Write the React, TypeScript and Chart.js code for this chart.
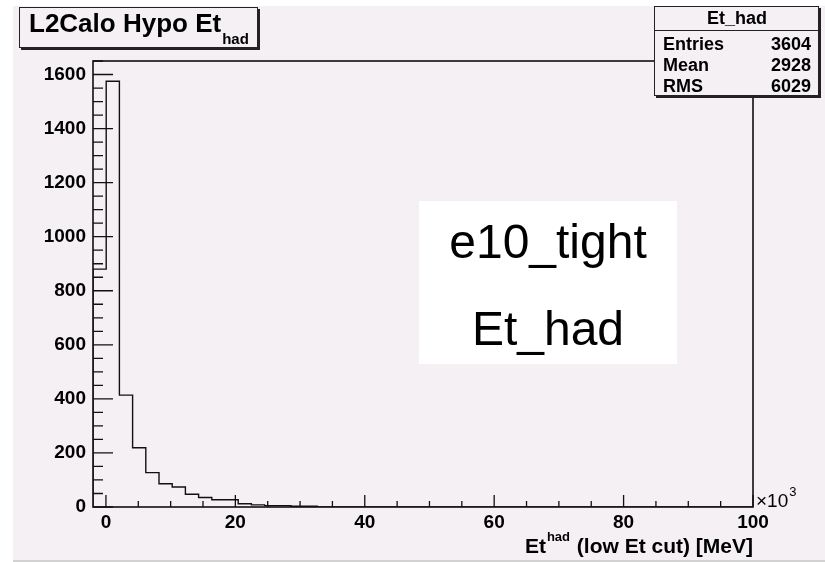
import React, { useEffect, useRef } from "react";
import { Chart, registerables } from "chart.js";

Chart.register(...registerables);

// ---- data ----
const X_MIN = -2;
const X_MAX = 100;
const N_BINS = 50;
const BIN_COUNTS = [
  880, 1575, 414, 219, 127, 86, 74, 47, 35, 27,
  27, 12, 8, 5, 5, 3, 3, 0, 0, 0,
  0, 0, 0, 0, 0, 0, 0, 0, 0, 0,
  0, 0, 0, 0, 0, 0, 0, 0, 0, 0,
  0, 0, 0, 0, 0, 0, 0, 0, 0, 0,
];
const X_TICKS = [0, 20, 40, 60, 80, 100];
const Y_TICKS = [0, 200, 400, 600, 800, 1000, 1200, 1400, 1600];
const Y_MAX = 1650;
const X_MINOR_STEP = 5;
const Y_MINOR_STEP = 50;

const TITLE_MAIN = "L2Calo Hypo Et";
const TITLE_SUB = "had";
const STATS_NAME = "Et_had";
const STATS_ROWS = [
  ["Entries", "3604"],
  ["Mean", "2928"],
  ["RMS", "6029"],
];
const NOTE_LINES = ["e10_tight", "Et_had"];
const XTITLE_A = "Et";
const XTITLE_SUP = "had";
const XTITLE_B = " (low Et cut) [MeV]";

const W = 825;
const H = 562;
const BG = "#f4f0f4";
const FONT = '"Liberation Sans", Arial, Helvetica, sans-serif';

const binWidth = (X_MAX - X_MIN) / N_BINS;

function buildPoints() {
  const pts: { x: number; y: number }[] = [{ x: X_MIN, y: 0 }];
  BIN_COUNTS.forEach((c, i) => pts.push({ x: X_MIN + i * binWidth, y: c }));
  pts.push({ x: X_MAX, y: 0 });
  return pts;
}

const decoPlugin = {
  id: "rootDeco",
  beforeDraw(chart: any) {
    const ctx = chart.ctx as CanvasRenderingContext2D;
    ctx.save();
    ctx.fillStyle = "#ffffff";
    ctx.fillRect(0, 0, W, H);
    ctx.fillStyle = BG;
    ctx.fillRect(13, 6, W - 13, 554);
    ctx.fillStyle = "#d2d2d2";
    ctx.fillRect(13, 560, W - 13, 2);
    ctx.restore();
  },
  afterDatasetsDraw(chart: any) {
    const ctx = chart.ctx as CanvasRenderingContext2D;
    const xs = chart.scales.x;
    const ys = chart.scales.y;
    const a = chart.chartArea;
    ctx.save();
    // frame
    ctx.strokeStyle = "#111";
    ctx.lineWidth = 1.6;
    ctx.strokeRect(a.left, a.top, a.right - a.left, a.bottom - a.top);
    // x ticks
    ctx.lineWidth = 1.3;
    ctx.beginPath();
    for (let v = 0; v <= X_MAX + 1e-9; v += X_MINOR_STEP) {
      const px = xs.getPixelForValue(v);
      const major = X_TICKS.includes(v);
      ctx.moveTo(px, a.bottom);
      ctx.lineTo(px, a.bottom - (major ? 12 : 6));
    }
    // y ticks
    for (let v = 0; v <= Y_MAX + 1e-9; v += Y_MINOR_STEP) {
      const py = ys.getPixelForValue(v);
      const major = Y_TICKS.includes(v);
      ctx.moveTo(a.left, py);
      ctx.lineTo(a.left + (major ? 20 : 10), py);
    }
    ctx.stroke();

    // note box
    ctx.fillStyle = "#ffffff";
    ctx.fillRect(419, 201, 258, 163);
    ctx.fillStyle = "#000";
    ctx.font = `48px ${FONT}`;
    ctx.textAlign = "center";
    ctx.textBaseline = "alphabetic";
    ctx.fillText(NOTE_LINES[0], 548, 258);
    ctx.fillText(NOTE_LINES[1], 548, 345);

    // x axis title
    ctx.textAlign = "left";
    ctx.font = `bold 21px ${FONT}`;
    const wB = ctx.measureText(XTITLE_B).width;
    const wA = ctx.measureText(XTITLE_A).width;
    ctx.font = `bold 13px ${FONT}`;
    const wS = ctx.measureText(XTITLE_SUP).width;
    const xB = a.right - wB;
    const xS = xB - wS - 1;
    const xA = xS - wA - 1;
    ctx.font = `bold 21px ${FONT}`;
    ctx.fillText(XTITLE_A, xA, 553);
    ctx.fillText(XTITLE_B, xB, 553);
    ctx.font = `bold 13px ${FONT}`;
    ctx.fillText(XTITLE_SUP, xS, 541);

    // x10^3
    ctx.font = `19px ${FONT}`;
    ctx.fillText("\u00d710", a.right + 3, 507);
    const w10 = ctx.measureText("\u00d710").width;
    ctx.font = `13px ${FONT}`;
    ctx.fillText("3", a.right + 3 + w10 + 1, 496);
    ctx.restore();
  },
  afterDraw(chart: any) {
    const ctx = chart.ctx as CanvasRenderingContext2D;
    ctx.save();
    // title box
    ctx.fillStyle = "#222";
    ctx.fillRect(21, 9, 239, 41);
    ctx.fillStyle = BG;
    ctx.fillRect(19, 7, 238, 40);
    ctx.strokeStyle = "#222";
    ctx.lineWidth = 1;
    ctx.strokeRect(19.5, 7.5, 238, 40);
    ctx.fillStyle = "#000";
    ctx.textAlign = "left";
    ctx.textBaseline = "alphabetic";
    ctx.font = `bold 26px ${FONT}`;
    ctx.fillText(TITLE_MAIN, 29, 32);
    const wt = ctx.measureText(TITLE_MAIN).width;
    ctx.font = `bold 15px ${FONT}`;
    ctx.fillText(TITLE_SUB, 29 + wt + 1, 44);

    // stats box
    ctx.fillStyle = "#222";
    ctx.fillRect(656, 8, 165, 90);
    ctx.fillStyle = BG;
    ctx.fillRect(654, 6, 164, 89);
    ctx.strokeStyle = "#222";
    ctx.strokeRect(654.5, 6.5, 164, 89);
    ctx.beginPath();
    ctx.moveTo(654, 30.5);
    ctx.lineTo(818, 30.5);
    ctx.stroke();
    ctx.fillStyle = "#000";
    ctx.font = `bold 18px ${FONT}`;
    ctx.textAlign = "center";
    ctx.fillText(STATS_NAME, 737, 24);
    const rowY = [49.5, 70.5, 91.5];
    STATS_ROWS.forEach((r, i) => {
      ctx.textAlign = "left";
      ctx.fillText(r[0], 663, rowY[i]);
      ctx.textAlign = "right";
      ctx.fillText(r[1], 811, rowY[i]);
    });
    ctx.restore();
  },
};

export default function App() {
  const ref = useRef<HTMLCanvasElement | null>(null);
  useEffect(() => {
    document.body.style.margin = "0";
    const canvas = ref.current;
    if (!canvas) return;
    const chart = new Chart(canvas, {
      type: "line",
      data: {
        datasets: [
          {
            data: buildPoints(),
            borderColor: "#111",
            borderWidth: 1.4,
            pointRadius: 0,
            stepped: "before",
            fill: false,
            tension: 0,
          } as any,
        ],
      },
      options: {
        animation: false,
        responsive: false,
        maintainAspectRatio: false,
        layout: { padding: { left: 0, right: 72, top: 61, bottom: 0 } },
        plugins: {
          legend: { display: false },
          tooltip: { enabled: false },
          title: { display: false },
        },
        scales: {
          x: {
            type: "linear",
            min: X_MIN,
            max: X_MAX,
            grid: { display: false, drawTicks: false },
            border: { display: false },
            ticks: {
              color: "#000",
              padding: 4,
              maxRotation: 0,
              autoSkip: false,
              font: { family: FONT, size: 19, weight: "bold" },
              callback: (v: any) => String(v),
            },
            afterBuildTicks: (s: any) => {
              s.ticks = X_TICKS.map((v) => ({ value: v }));
            },
            afterFit: (s: any) => {
              s.height = 55;
            },
          },
          y: {
            type: "linear",
            min: 0,
            max: Y_MAX,
            grid: { display: false, drawTicks: false },
            border: { display: false },
            ticks: {
              color: "#000",
              padding: 7,
              autoSkip: false,
              font: { family: FONT, size: 19, weight: "bold" },
              callback: (v: any) => String(v),
            },
            afterBuildTicks: (s: any) => {
              s.ticks = Y_TICKS.map((v) => ({ value: v }));
            },
            afterFit: (s: any) => {
              s.width = 93;
            },
          },
        },
      } as any,
      plugins: [decoPlugin as any],
    });
    return () => chart.destroy();
  }, []);
  return (
    <canvas
      ref={ref}
      width={W}
      height={H}
      style={{ display: "block", width: W, height: H }}
    />
  );
}
